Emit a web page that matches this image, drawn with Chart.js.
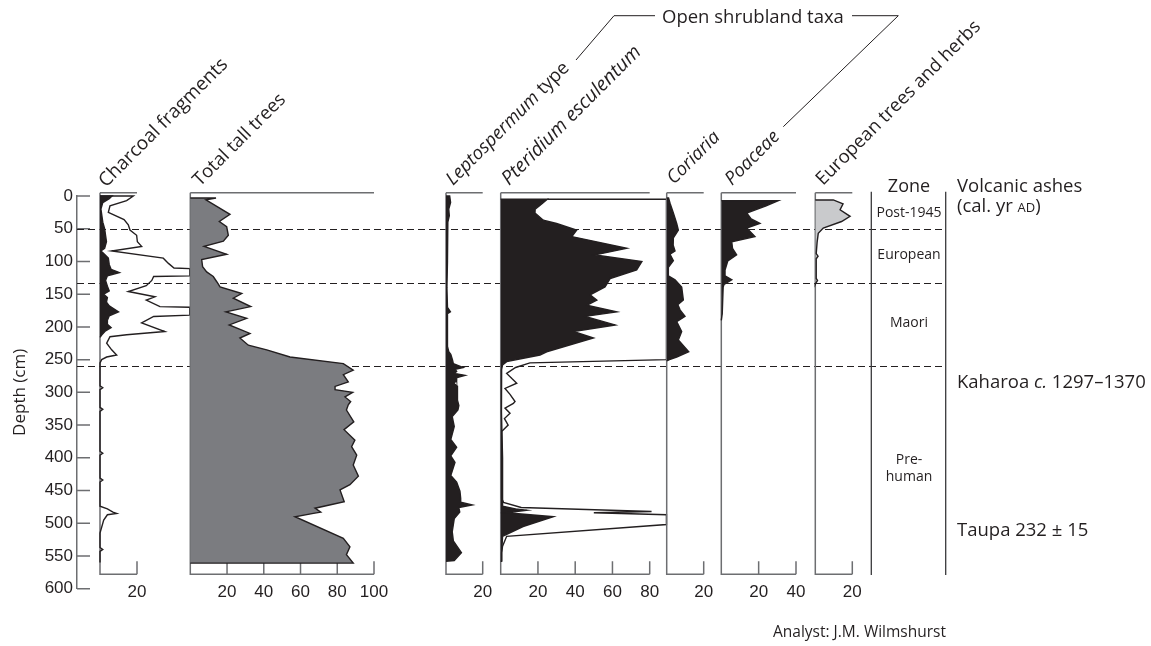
<!DOCTYPE html>
<html><head><meta charset="utf-8">
<script src="https://cdn.jsdelivr.net/npm/chart.js@4/dist/chart.umd.min.js"></script>
<style>
html,body{margin:0;padding:0;background:#fff;}
#wrap{position:relative;width:1151px;height:646px;overflow:hidden;background:#fff;}
#wrap canvas{position:absolute;left:0;top:0;}
</style></head><body>
<div id="wrap"></div>
<script>
// ---------------- DATA (depth in cm, values in %) ----------------
const zoneBoundaries = [51, 133, 260];
const zoneNames = ['Post-1945', 'European', 'Maori', 'Pre-|human'];
const zoneLabelDepths = [24.5, 88.6, 192.5, 414.8];
const ashNames = ['Kaharoa|c.|1297–1370', 'Taupa 232 ± 15'];
const ashDepths = [283.7, 508.8];

const charcoalTicks = [20];
const treeTicks = [20, 40, 60, 80, 100];
const leptoTicks = [20];
const pteriTicks = [20, 40, 60, 80];
const coriTicks = [20];
const poaTicks = [20, 40];
const euroTicks = [20];

const charcoalFillDepth = [0,0,4,10,20,30,40,50,60,70,80,84,88,95,105,112,117,122,129,138,145,150,155,162,168,177,183,190,196,201,206,212,216];
const charcoalFillValue = [0,6.5,5,1.5,0.5,1,1.5,2.5,3,3.5,2.5,0.5,2,4.5,5,6,10.5,4,3,4,5,2,4,3.5,5,10,5,4,4,6,3,1,0];
const charcoalLineDepth = [0,0,7,15,25,36,44,52,60,70,77,84,95,103,110,111,122,123,129,137,146,154,159,169,170,182,184,194,207,212,215,225,235,243,246,250,255,290,293,296,323,326,329,390,393,396,431,434,437,474,478,483,485,487,495,515,537,540,543,560];
const charcoalLineValue = [0,18,14.4,5.4,4.5,13,15.3,16.2,19.8,20.2,22.5,6.3,34.2,37,40,48.5,48.5,29,28,25,15.3,29.7,25,32.4,48.5,48.5,29,22.5,35,14.4,5.4,3.6,6.3,9,3.6,0.9,0,0,1.5,0,0,1.5,0,0,1.5,0,0,1.5,0,0,4,7,9,4,2,0,0,1.5,0,0];

const treeDepth = [3,3,6,28,39,47,60,69,77,89,97,108,116,123,131,139,149,156,169,177,187,197,210,217,228,235,246,256,266,273,284,291,296,300,307,314,319,327,345,357,373,383,396,411,428,441,449,467,477,483,485,490,523,536,548,561,561];
const treeValue = [0,14,8.5,21.6,15.8,19.8,20.7,18,7.5,19.8,6.2,6.7,8.9,12.5,14.4,16.2,28,23.4,32.9,19.4,30.7,21.2,32.5,27,31.6,41.6,54.3,83.3,88.7,83.3,86,78.8,78.8,88.4,84.2,87.3,86,85,89,83.7,89.6,87.8,90.6,88.7,91.5,86.9,81.5,83.8,67.9,71,67,57,83.3,86.9,85,88.7,0];

const leptoDepth = [0,0,10,20,30,40,60,100,140,170,177,180,230,238,242,250,256,262,265,268,271,274,278,282,286,290,300,312,320,327,337,352,372,384,397,407,427,437,451,462,468,472,476,483,493,513,527,545,557,558];
const leptoValue = [0,2,2.5,1.5,1.8,1,0.8,0.8,0.5,0.8,2.4,0.6,0.8,1.5,2.6,3.5,4,9.4,5,5.8,4.5,10.4,5.5,5.8,4.2,6,6.5,6,7,6.5,3.4,4.5,2.6,5.8,2.6,4.9,2.6,5.8,7.6,8,8,14.3,7,7.5,4.5,3.4,4,8.4,4.5,0];

const pteriFillDepth = [5,5,12,20,26,37,42,52,62,80,90,100,113,126,139,151,159,167,177,184,197,207,217,238,243,253,258,265,300,330,400,460,474,478,480,484,490,505,520,545,558,558];
const pteriFillValue = [0,25,22,18.5,18.4,22.9,30,40.8,38.2,67.7,50.7,75.8,73,58.8,56,48,51.6,46.2,62.3,45.3,61.5,39,49.8,24.7,21.1,3.2,1,0.5,0.5,0.3,1,1,1,8,14,3,28.3,12,1,0.5,0.5,0];
const pteriLineDepth = [5,5,250,255,262,271,279,286,294,303,314,317,324,332,340,350,360,462,468,476,482,484,487,502,520,535,545,558];
const pteriLineValue = [25,89,89,15.7,8,3.2,6,8.6,2.3,5,7.7,6.8,2.3,5,2,4,0.5,0.5,1.5,11,81,50,89,89,3.2,1,0.5,0.5];

const coriDepth = [3,3,11,26,42,52,64,75,84,89,99,109,122,128,139,159,166,174,184,192,207,220,238,246,250,252];
const coriValue = [0,1,1.8,3.6,5.4,6.3,3.6,3.5,4.5,1.8,3.6,0.9,0.9,4.5,8.1,9,6,7.2,9.9,5.4,8.1,6.3,11.9,5.4,1.5,0];

const poaDepth = [7,7,15,26,35,42,49,62,70,80,90,99,113,122,128,135,139,180,190];
const poaValue = [0,30.5,24,13.6,16,20.7,13.6,18,5.6,6,8.2,3.5,2,2,5.6,1.5,1,0.5,0];

const euroDepth = [6,6,12,21,31,39,49,57,70,88,92,96,126,129,133,135];
const euroValue = [0,9.7,15,13.4,18.8,14.2,4.3,1.6,1,0.5,1.5,0.5,0.5,1.2,0.3,0];

// ---------------- STYLE / LAYOUT ----------------
const W = 1151, H = 646;
const TOP = 196, BOTTOM = 588.7, AXIS_X = 77, RIGHT = 946;
const FRAME_TOP = -5, FRAME_BOTTOM = 578;
const INK = '#231f20', FRAME = '#6d6e71';
const BLACK = '#231f20', TREE_GREY = '#7b7c80', EURO_GREY = '#c9cacc';
const FONT_TEXT = '"Open Sans", "Noto Sans", sans-serif';
const FONT_NUM = '"Liberation Sans", Arial, sans-serif';

function mk(){
  const c = document.createElement('canvas');
  c.width = W; c.height = H; c.style.width = W+'px'; c.style.height = H+'px';
  document.getElementById('wrap').appendChild(c);
  return c;
}

function drawParts(ctx, parts, size){
  let x = 0;
  parts.forEach(p => {
    ctx.font = (p.italic ? 'italic ' : '') + (p.size || size) + 'px ' + FONT_TEXT;
    ctx.fillText(p.t, x, 0);
    x += ctx.measureText(p.t).width;
  });
}

const rotLabels = [
  {x:106, y:188, size:19, parts:[{t:'Charcoal fragments'}]},
  {x:200, y:187, size:18.5, parts:[{t:'Total tall trees'}]},
  {x:453, y:186, size:18.5, parts:[{t:'Leptospermum', italic:true},{t:' type'}]},
  {x:509, y:186, size:19.5, parts:[{t:'Pteridium esculentum', italic:true}]},
  {x:674, y:185, size:18.5, parts:[{t:'Coriaria', italic:true}]},
  {x:732, y:186, size:18.5, parts:[{t:'Poaceae', italic:true}]},
  {x:823, y:186, size:18.5, parts:[{t:'European trees and herbs'}]}
];

const basePlugin = {
  id:'base',
  afterDraw(chart){
    const {ctx, chartArea:a} = chart; const ys = chart.scales.y;
    ctx.save();
    // inward depth ticks
    ctx.strokeStyle = FRAME; ctx.lineWidth = 1.5; ctx.beginPath();
    ys.ticks.forEach(t => { const y = ys.getPixelForValue(t.value); ctx.moveTo(a.left, y); ctx.lineTo(a.left+13, y); });
    ctx.stroke();
    // zone boundaries (dashed)
    ctx.setLineDash([7,4]); ctx.strokeStyle = INK; ctx.lineWidth = 1; ctx.beginPath();
    zoneBoundaries.forEach(d => { const y = Math.round(ys.getPixelForValue(d)) + 0.5; ctx.moveTo(a.left, y); ctx.lineTo(a.right, y); });
    ctx.stroke(); ctx.setLineDash([]);
    // zone column
    ctx.strokeStyle = '#3a3a3c'; ctx.lineWidth = 1.3; ctx.beginPath();
    ctx.moveTo(871.3, 191.7); ctx.lineTo(871.3, 575);
    ctx.moveTo(945.7, 191.7); ctx.lineTo(945.7, 575);
    ctx.stroke();
    ctx.fillStyle = INK; ctx.textBaseline = 'alphabetic';
    ctx.textAlign = 'center'; ctx.font = '18px ' + FONT_TEXT;
    ctx.fillText('Zone', 909, 191.7);
    ctx.font = '14px ' + FONT_TEXT;
    zoneNames.forEach((n, i) => {
      const y = ys.getPixelForValue(zoneLabelDepths[i]);
      const lines = n.split('|');
      lines.forEach((ln, j) => ctx.fillText(ln, 909, y + 5 + (j - (lines.length-1)/2) * 17));
    });
    // volcanic ashes
    ctx.textAlign = 'left';
    ctx.save(); ctx.translate(957, 191.7); drawParts(ctx, [{t:'Volcanic ashes'}], 18.5); ctx.restore();
    ctx.save(); ctx.translate(957, 211.7); drawParts(ctx, [{t:'(cal. yr '},{t:'AD', size:13},{t:')'}], 18.5); ctx.restore();
    ashNames.forEach((n, i) => {
      const y = ys.getPixelForValue(ashDepths[i]) + 6.5;
      const seg = n.split('|');
      const parts = seg.length === 3 ? [{t:seg[0]+' '},{t:seg[1], italic:true},{t:' '+seg[2]}] : [{t:seg[0]}];
      ctx.save(); ctx.translate(957, y); drawParts(ctx, parts, 18.5); ctx.restore();
    });
    // rotated taxon labels
    rotLabels.forEach(l => {
      ctx.save(); ctx.translate(l.x, l.y); ctx.rotate(-Math.PI/4);
      drawParts(ctx, l.parts, l.size); ctx.restore();
    });
    // Open shrubland taxa bracket
    ctx.font = '18.5px ' + FONT_TEXT; ctx.textAlign = 'left';
    ctx.fillText('Open shrubland taxa', 662, 23);
    ctx.strokeStyle = INK; ctx.lineWidth = 1; ctx.beginPath();
    ctx.moveTo(576, 60); ctx.lineTo(614, 15.7); ctx.lineTo(655, 15.7);
    ctx.moveTo(852, 15.7); ctx.lineTo(898.3, 15.7); ctx.lineTo(783.3, 126.7);
    ctx.stroke();
    // analyst
    ctx.font = '15.5px ' + FONT_TEXT;
    ctx.fillText('Analyst: J.M. Wilmshurst', 773, 637);
    ctx.restore();
  }
};

new Chart(mk(), {
  type:'line',
  data:{datasets:[]},
  options:{
    responsive:false, animation:false, devicePixelRatio:1,
    layout:{padding:{left:0, right:W-RIGHT, top:TOP, bottom:H-BOTTOM}},
    plugins:{legend:{display:false}, tooltip:{enabled:false}},
    scales:{
      x:{type:'linear', display:false, min:0, max:1},
      y:{type:'linear', reverse:true, min:0, max:600, position:'left',
        afterFit(s){ s.width = AXIS_X; },
        ticks:{stepSize:50, font:{family:FONT_NUM, size:17}, color:INK, padding:4},
        grid:{display:false, drawTicks:false},
        border:{display:true, color:FRAME, width:1.5},
        title:{display:true, text:'Depth (cm)', font:{family:FONT_TEXT, size:17}, color:INK, padding:{top:10, bottom:0}}
      }
    }
  },
  plugins:[basePlugin]
});

const panels = [
  {id:'charcoal', left:100, right:137, max:20, ticks:charcoalTicks, series:[
    {d:charcoalFillDepth, v:charcoalFillValue, fill:BLACK},
    {d:charcoalLineDepth, v:charcoalLineValue, fill:null}]},
  {id:'trees', left:190.3, right:374, max:100, ticks:treeTicks, series:[
    {d:treeDepth, v:treeValue, fill:TREE_GREY}]},
  {id:'lepto', left:446, right:482.7, max:20, ticks:leptoTicks, series:[
    {d:leptoDepth, v:leptoValue, fill:BLACK}]},
  {id:'pteri', left:500.7, right:649.7, max:80, ticks:pteriTicks, series:[
    {d:pteriFillDepth, v:pteriFillValue, fill:BLACK},
    {d:pteriLineDepth, v:pteriLineValue, fill:null}]},
  {id:'cori', left:666.7, right:703.7, max:20, ticks:coriTicks, series:[
    {d:coriDepth, v:coriValue, fill:BLACK}]},
  {id:'poa', left:721.3, right:796, max:40, ticks:poaTicks, series:[
    {d:poaDepth, v:poaValue, fill:BLACK}]},
  {id:'euro', left:815.3, right:852.3, max:20, ticks:euroTicks, series:[
    {d:euroDepth, v:euroValue, fill:EURO_GREY}]}
];

function framePlugin(p){
  return {
    id:'frame_'+p.id,
    beforeDatasetsDraw(chart){
      const {ctx} = chart; const xs = chart.scales.x, ys = chart.scales.y;
      const x0 = xs.getPixelForValue(0), x1 = xs.getPixelForValue(p.max);
      const yt = ys.getPixelForValue(FRAME_TOP), yb = ys.getPixelForValue(FRAME_BOTTOM);
      ctx.save(); ctx.strokeStyle = FRAME; ctx.lineWidth = 1.5; ctx.beginPath();
      ctx.moveTo(x0, yt); ctx.lineTo(x1, yt);
      ctx.moveTo(x0, yt); ctx.lineTo(x0, yb); ctx.lineTo(x1, yb);
      p.ticks.forEach(v => { const x = xs.getPixelForValue(v); ctx.moveTo(x, yb); ctx.lineTo(x, yb-13); });
      ctx.stroke();
      ctx.fillStyle = INK; ctx.font = '17px ' + FONT_NUM; ctx.textAlign = 'center'; ctx.textBaseline = 'alphabetic';
      p.ticks.forEach(v => ctx.fillText(String(v), xs.getPixelForValue(v), yb + 22.5));
      ctx.restore();
    }
  };
}

panels.forEach(p => {
  new Chart(mk(), {
    type:'line',
    data:{datasets: p.series.map(s => ({
      data: s.d.map((d, i) => ({x: s.v[i], y: d})),
      borderColor: INK, borderWidth: 1.4, borderJoinStyle:'miter',
      backgroundColor: s.fill || 'rgba(0,0,0,0)',
      fill: s.fill ? 'origin' : false,
      pointRadius: 0, tension: 0, clip: false
    }))},
    options:{
      indexAxis:'y', responsive:false, animation:false, devicePixelRatio:1,
      layout:{padding:{left:p.left, right:W-p.right, top:TOP, bottom:H-BOTTOM}},
      plugins:{legend:{display:false}, tooltip:{enabled:false}},
      scales:{
        x:{type:'linear', display:false, min:0, max:p.max},
        y:{type:'linear', display:false, reverse:true, min:0, max:600}
      }
    },
    plugins:[framePlugin(p)]
  });
});
</script>
</body></html>
